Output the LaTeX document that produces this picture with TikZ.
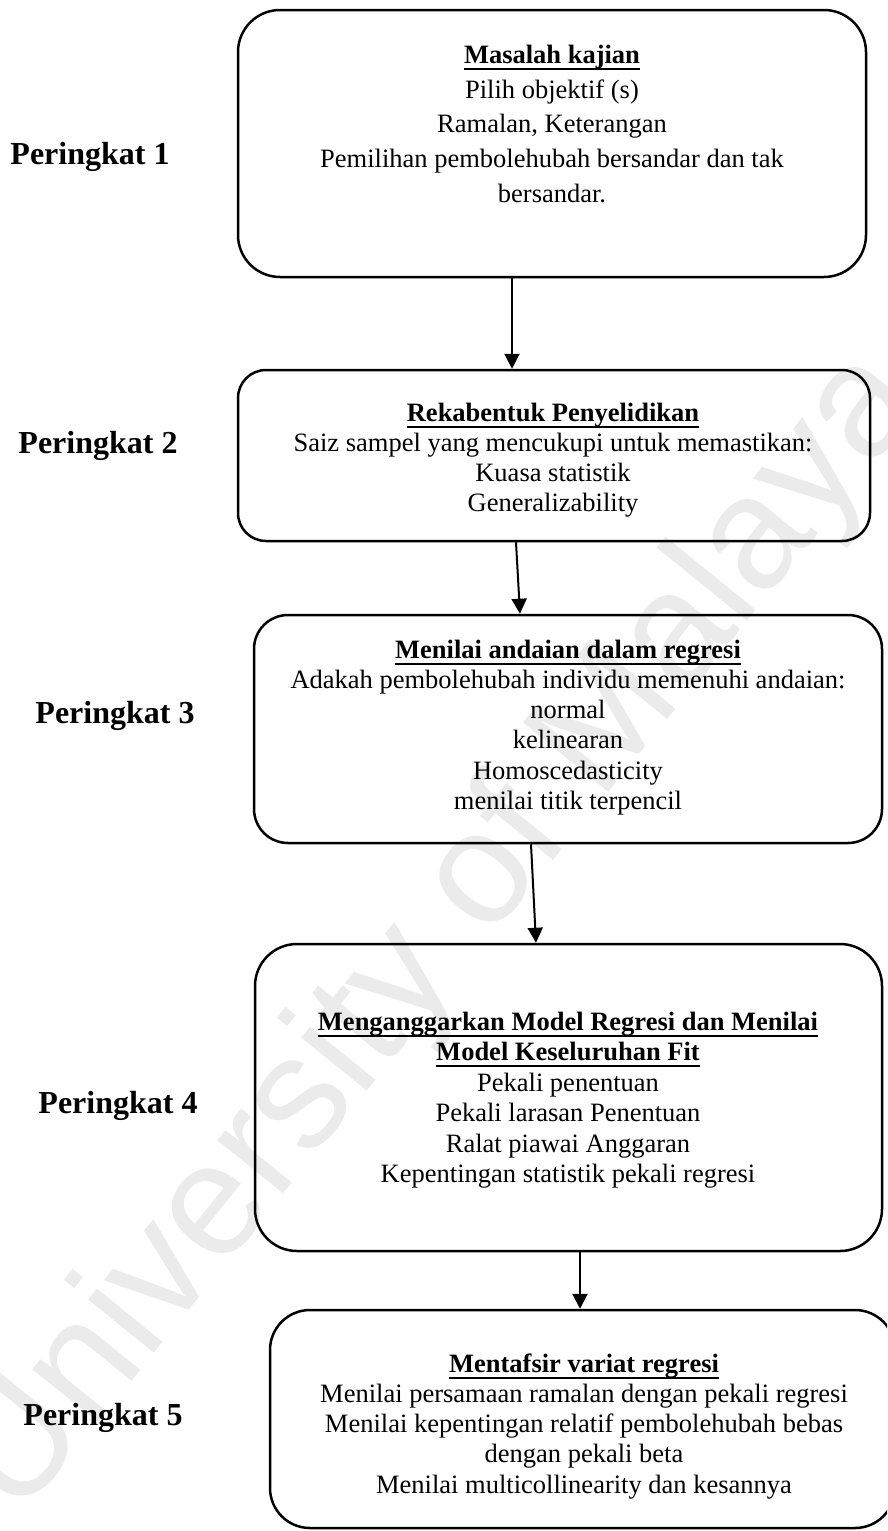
\documentclass[tikz,border=0pt]{standalone}
\usepackage{fontspec}
\setmainfont{Liberation Serif}
\newfontfamily\wmfont{Liberation Sans}
\usetikzlibrary{arrows.meta}

% bold heading with a Word-style underline that cuts through descenders
\newsavebox\uheadbox
\newcommand\uhead[1]{\sbox\uheadbox{\bfseries #1}\rlap{\usebox\uheadbox}\rule[-6.5pt]{\wd\uheadbox}{1.8pt}}
\newcommand\firstline{\rule{0pt}{20pt}}

\begin{document}
\begin{tikzpicture}[x=1pt,y=-1pt,
  box/.style={draw, line width=2.5pt, rounded corners=#1, inner sep=0pt},
  txt/.style={align=center, inner sep=0pt, anchor=north},
  lab/.style={font=\fontsize{32}{38}\selectfont\bfseries, inner sep=0pt},
  arr/.style={-{Triangle[length=15pt,width=15pt]}, line width=2pt},
  wm/.style={font=\wmfont\fontsize{160}{170}\selectfont, text=black!8, inner sep=0pt}]

\useasboundingbox (0,0) rectangle (887,1531);
\clip (0,0) rectangle (887,1531);

% faint watermark behind the chart
\node[wm, rotate=51] (wmark) at (440,935) {University of Malaya};

% stage boxes
\node[box=42pt, minimum width=628pt, minimum height=267pt] (b1) at (552,143.5) {};
\node[box=28pt, minimum width=632pt, minimum height=171pt] (b2) at (554,455.5) {};
\node[box=34pt, minimum width=628pt, minimum height=228pt] (b3) at (568,729) {};
\node[box=42pt, minimum width=627pt, minimum height=307pt] (b4) at (568.5,1097.5) {};
\node[box=40pt, minimum width=625pt, minimum height=218pt] (b5) at (582.5,1419) {};

% box contents
\node[txt, font=\fontsize{26.5}{34.8}\selectfont] (t1) at (552,43) {%
  \firstline\uhead{Masalah kajian}\\
  Pilih objektif (s)\\
  Ramalan, Keterangan\\
  Pemilihan pembolehubah bersandar dan tak\\
  bersandar.};
\node[txt, font=\fontsize{26.5}{30}\selectfont] (t2) at (553,401) {%
  \firstline\uhead{Rekabentuk Penyelidikan}\\
  Saiz sampel yang mencukupi untuk memastikan:\\
  Kuasa statistik\\
  Generalizability};
\node[txt, font=\fontsize{26.5}{30.2}\selectfont] (t3) at (568,638) {%
  \firstline\uhead{Menilai andaian dalam regresi}\\
  Adakah pembolehubah individu memenuhi andaian:\\
  normal\\
  kelinearan\\
  Homoscedasticity\\
  menilai titik terpencil};
\node[txt, font=\fontsize{26.5}{30.5}\selectfont] (t4) at (568,1010) {%
  \firstline\uhead{Menganggarkan Model Regresi dan Menilai}\\
  \uhead{Model Keseluruhan Fit}\\
  Pekali penentuan\\
  Pekali larasan Penentuan\\
  Ralat piawai Anggaran\\
  Kepentingan statistik pekali regresi};
\node[txt, font=\fontsize{26.5}{30.2}\selectfont] (t5) at (584,1352) {%
  \firstline\uhead{Mentafsir variat regresi}\\
  Menilai persamaan ramalan dengan pekali regresi\\
  Menilai kepentingan relatif pembolehubah bebas\\
  dengan pekali beta\\
  Menilai multicollinearity dan kesannya};

% stage labels
\node[lab] (p1) at (90,157) {Peringkat 1};
\node[lab] (p2) at (98,446) {Peringkat 2};
\node[lab] (p3) at (115,716) {Peringkat 3};
\node[lab] (p4) at (118,1106) {Peringkat 4};
\node[lab] (p5) at (103,1418) {Peringkat 5};

% flow arrows
\draw[arr] ([xshift=-40pt]b1.south) -- ([xshift=-42pt]b2.north);
\draw[arr] ([xshift=-38pt]b2.south) -- ([xshift=-48pt]b3.north);
\draw[arr] ([xshift=-37pt]b3.south) -- ([xshift=-32.5pt]b4.north);
\draw[arr] ([xshift=11.5pt]b4.south) -- ([xshift=-2.5pt]b5.north);
\end{tikzpicture}
\end{document}
